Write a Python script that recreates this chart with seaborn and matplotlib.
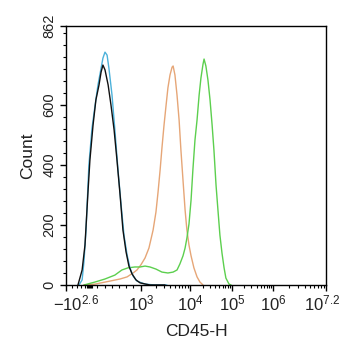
import numpy as np
import pandas as pd
import matplotlib
matplotlib.use("Agg")
import matplotlib.pyplot as plt
import seaborn as sns

# ---- data (x: position on the logicle display axis, 0-1000 channel units) ----
black_x = [46, 62, 73, 85, 92, 104, 115, 127, 135, 142, 150, 162, 173, 185, 196, 208, 219, 231, 242, 254, 269, 285, 323, 381]
black_y = [0, 50, 133, 316, 416, 532, 616, 666, 709, 732, 716, 666, 599, 516, 416, 300, 183, 110, 63, 37, 17, 7, 0, 0]

blue_x = [50, 62, 69, 77, 88, 100, 112, 123, 135, 142, 150, 158, 165, 177, 188, 200, 212, 223, 235, 246, 258, 273, 304, 342, 388]
blue_y = [0, 17, 77, 183, 399, 522, 599, 666, 722, 755, 775, 765, 722, 632, 516, 383, 266, 166, 100, 57, 30, 13, 3, 0, 0]

orange_x = [69, 112, 169, 208, 235, 258, 273, 288, 304, 319, 335, 346, 354, 362, 369, 377, 385, 392, 400, 408, 412,
            419, 427, 435, 442, 450, 458, 465, 473, 481, 492, 504, 515, 527]
orange_y = [0, 3, 13, 20, 27, 40, 50, 67, 90, 123, 183, 243, 309, 383, 456, 532, 599, 656, 699, 725, 729,
            699, 632, 549, 449, 349, 250, 183, 133, 97, 57, 27, 10, 0]

green_x = [69, 112, 150, 188, 215, 238, 265, 285, 304, 323, 346, 369, 392, 412, 427, 438, 450, 458, 465, 473,
           481, 488, 496, 504, 512, 519, 527, 531, 538, 546, 554, 562, 569, 577, 585, 592, 600, 608, 615, 627, 635]
green_y = [0, 10, 20, 33, 50, 57, 60, 60, 63, 60, 53, 43, 40, 43, 50, 70, 97, 123, 156, 203,
           283, 383, 482, 549, 632, 689, 735, 752, 729, 682, 616, 532, 449, 333, 243, 166, 106, 57, 23, 3, 0]

y_ticks = [0, 200, 400, 600, 862]
x_tick_pos = [0, 288, 477, 638, 796, 1000]
x_tick_labels = [r"$-10^{2.6}$", r"$10^{3}$", r"$10^{4}$", r"$10^{5}$", r"$10^{6}$", r"$10^{7.2}$"]

sns.set_style("ticks")
plt.rcParams["font.family"] = ["Liberation Sans", "DejaVu Sans"]
plt.rcParams["mathtext.fontset"] = "custom"
plt.rcParams["mathtext.rm"] = "Liberation Sans"
plt.rcParams["mathtext.it"] = "Liberation Sans"
plt.rcParams["mathtext.bf"] = "Liberation Sans"

frames = []
for name, xs, ys in [("orange", orange_x, orange_y), ("green", green_x, green_y),
                     ("blue", blue_x, blue_y), ("black", black_x, black_y)]:
    frames.append(pd.DataFrame({"x": xs, "y": ys, "s": name}))
df = pd.concat(frames, ignore_index=True)

colors = {"orange": "#e6a677", "green": "#5ccf4e", "blue": "#4cb1da", "black": "#111111"}

fig = plt.figure(figsize=(3.42, 3.5), dpi=100)
ax = fig.add_axes([66 / 342, 1 - 285 / 350, 260 / 342, 259 / 350])

for name in ["orange", "green", "blue", "black"]:
    sns.lineplot(data=df[df.s == name], x="x", y="y", color=colors[name], lw=1.0,
                 ax=ax, sort=False, estimator=None, legend=False)

ax.set_xlim(0, 1000)
ax.set_ylim(0, 862)
ax.set_yticks(y_ticks)
ax.set_yticklabels([str(v) for v in y_ticks], rotation=90, va="center", fontsize=10.5, color="#222222")
ax.set_yticks(np.arange(0, 862, 40), minor=True)

ax.set_xticks(x_tick_pos)
ax.set_xticklabels(x_tick_labels, fontsize=12, color="#222222")
# minor ticks: log-spaced within decades, dense near zero
minors = []
for a, b in zip(x_tick_pos[1:-1], x_tick_pos[2:]):
    for m in range(2, 10):
        p = a + (b - a) * np.log10(m)
        if p < 1000:
            minors.append(p)
minors += [23, 42, 58, 73, 81, 85, 88, 92, 96, 100, 119, 150, 177, 204, 231, 258]
ax.set_xticks(minors, minor=True)
ax.tick_params(axis="both", which="major", length=4, width=1, color="black", pad=2)
ax.tick_params(axis="y", which="major", pad=3)
ax.tick_params(axis="both", which="minor", length=2, width=0.8, color="black")
xl = ax.get_xticklabels()
xl[0].set_horizontalalignment("left")
xl[0].set_transform(xl[0].get_transform() + matplotlib.transforms.ScaledTranslation(-13 / 100, 0, fig.dpi_scale_trans))
xl[-1].set_horizontalalignment("right")
xl[-1].set_transform(xl[-1].get_transform() + matplotlib.transforms.ScaledTranslation(14 / 100, 0, fig.dpi_scale_trans))

for sp in ax.spines.values():
    sp.set_linewidth(1.0)
    sp.set_color("black")
    sp.set_visible(True)

ax.set_xlabel("CD45-H", fontsize=12.5, labelpad=8, color="#222222")
ax.set_ylabel("Count", fontsize=12.5, labelpad=5, color="#222222")

fig.savefig("out.png", dpi=100)
